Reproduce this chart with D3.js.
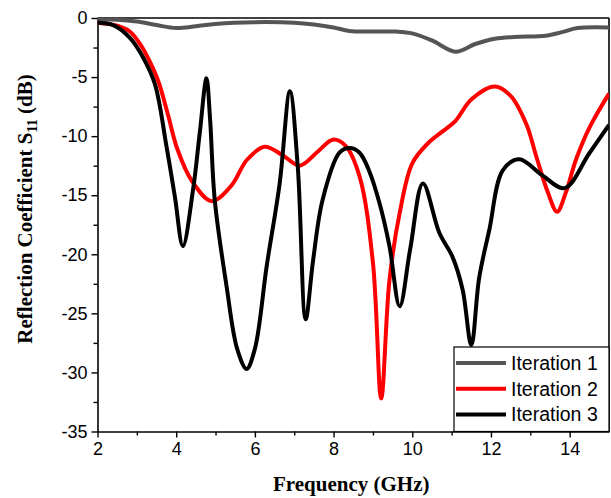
<!DOCTYPE html>
<html>
<head>
<meta charset="utf-8">
<script src="https://cdn.jsdelivr.net/npm/d3@7"></script>
<style>
  body { margin: 0; background: #fff; }
  .tick text { font-family: "Liberation Sans", Arial, sans-serif; font-size: 18px; fill: #000; }
  .axis path, .axis line { stroke: #000; }
</style>
</head>
<body>
<div id="chart"></div>
<script>
// Plot constants
const MARGIN = {LEFT: 97.5, RIGHT: 2, TOP: 18, BOTTOM: 66.5};
const WIDTH = 611 - MARGIN.LEFT - MARGIN.RIGHT;
const HEIGHT = 498 - MARGIN.TOP - MARGIN.BOTTOM;

// data: [frequency GHz, S11 dB]
const iteration1 = [
  [2.0, -0.15], [2.5, -0.15], [3.0, -0.3], [3.5, -0.6], [4.0, -0.85], [4.5, -0.7],
  [5.0, -0.5], [6.0, -0.35], [7.0, -0.4], [7.5, -0.55], [8.0, -0.8], [8.4, -1.1],
  [9.0, -1.15], [9.6, -1.15], [10.0, -1.3], [10.5, -1.9], [11.1, -2.85], [11.6, -2.2],
  [12.1, -1.75], [12.6, -1.6], [13.4, -1.5], [13.8, -1.2], [14.2, -0.85], [15.0, -0.8]
];
const iteration2 = [
  [2.0, -0.4], [2.5, -0.65], [2.83, -1.16], [3.1, -2.3], [3.33, -3.7], [3.55, -5.4],
  [3.8, -8.3], [4.02, -11], [4.4, -13.8], [4.9, -15.5], [5.4, -14.2], [5.8, -12],
  [6.25, -10.9], [6.7, -11.6], [7.14, -12.5], [7.6, -11.3], [7.98, -10.3], [8.3, -10.8],
  [8.66, -13.4], [9.0, -20.7], [9.21, -32.2], [9.42, -22.2], [9.68, -16.5], [10.0, -12.3],
  [10.4, -10.6], [10.77, -9.6], [11.1, -8.7], [11.5, -6.9], [12.1, -5.8],
  [12.5, -6.6], [12.9, -9], [13.15, -11.7], [13.45, -14.8], [13.68, -16.4], [13.9, -14.8],
  [14.16, -12], [14.5, -9.3], [15.0, -6.4]
];
const iteration3 = [
  [2.0, -0.4], [2.4, -0.6], [2.83, -1.7], [3.17, -3.4], [3.46, -5.6], [3.76, -11],
  [3.97, -15.2], [4.17, -19.3], [4.43, -14.5], [4.6, -9.7], [4.77, -5.1], [4.86, -8.5],
  [4.98, -15.4], [5.28, -22.7], [5.55, -28], [5.79, -29.7], [6.0, -28], [6.3, -21],
  [6.63, -14], [6.89, -6.2], [7.09, -12.6], [7.29, -25.5], [7.48, -20.5], [7.72, -15.4],
  [8.15, -11.4], [8.41, -11], [8.66, -11.4], [8.9, -12.9], [9.17, -15.7], [9.42, -19.3],
  [9.68, -24.4], [9.95, -19.5], [10.27, -14], [10.69, -18.2], [11.02, -20.2], [11.28, -23],
  [11.5, -27.7], [11.7, -22], [11.96, -17.9], [12.3, -12.9], [12.72, -11.95],
  [13.3, -13.3], [13.87, -14.4], [14.5, -11.45], [15.0, -9.05]
];
const seriesNames = ["Iteration 1", "Iteration 2", "Iteration 3"];
const seriesColors = ["#555555", "#ff0000", "#000000"];
const xTicks = [2, 4, 6, 8, 10, 12, 14];
const yTicks = [0, -5, -10, -15, -20, -25, -30, -35];

const svg = d3.select("#chart")
  .append("svg")
  .attr("width", 611)
  .attr("height", 498);

const g = svg.append("g")
  .attr("transform", "translate(" + MARGIN.LEFT + "," + MARGIN.TOP + ")");

// Scales
const x = d3.scaleLinear().domain([2, 15]).range([0, WIDTH]);
const y = d3.scaleLinear().domain([-35, 0]).range([HEIGHT, 0]);

// minor ticks first
g.append("g")
  .attr("class", "axis")
  .attr("transform", "translate(0," + HEIGHT + ")")
  .call(d3.axisBottom(x).tickValues(d3.range(3, 15, 2)).tickSize(4).tickSizeOuter(0).tickFormat(""))
  .call(a => a.select(".domain").remove());
g.append("g")
  .attr("class", "axis")
  .call(d3.axisLeft(y).tickValues(d3.range(-32.5, 0, 5)).tickSize(4).tickSizeOuter(0).tickFormat(""))
  .call(a => a.select(".domain").remove());

// major axes
g.append("g")
  .attr("class", "axis")
  .attr("transform", "translate(0," + HEIGHT + ")")
  .call(d3.axisBottom(x).tickValues(xTicks).tickSize(6).tickSizeOuter(0).tickPadding(5));
g.append("g")
  .attr("class", "axis")
  .call(d3.axisLeft(y).tickValues(yTicks).tickSize(6).tickSizeOuter(0).tickPadding(4)
    .tickFormat(d => d));
g.selectAll(".axis path.domain").attr("stroke-width", 1.6);
g.selectAll(".axis line").attr("stroke-width", 1.4);

// top / right frame
g.append("line").attr("x1", 0).attr("x2", WIDTH).attr("y1", 0).attr("y2", 0)
  .attr("stroke", "#000").attr("stroke-width", 1.6);
g.append("line").attr("x1", WIDTH).attr("x2", WIDTH).attr("y1", 0).attr("y2", HEIGHT)
  .attr("stroke", "#000").attr("stroke-width", 1.6);

// curves
svg.append("clipPath").attr("id", "clip")
  .append("rect").attr("width", WIDTH).attr("height", HEIGHT + 2).attr("y", -1);

const line = d3.line()
  .x(d => x(d[0]))
  .y(d => y(d[1]))
  .curve(d3.curveCatmullRom.alpha(0.5));

const curves = g.append("g").attr("clip-path", "url(#clip)");
[iteration1, iteration2, iteration3].forEach((data, i) => {
  curves.append("path")
    .datum(data)
    .attr("fill", "none")
    .attr("stroke", seriesColors[i])
    .attr("stroke-width", 4)
    .attr("stroke-linejoin", "round")
    .attr("d", line);
});

// legend
const legend = g.append("g").attr("transform", "translate(" + (454 - MARGIN.LEFT) + "," + (347 - MARGIN.TOP) + ")");
legend.append("rect")
  .attr("width", WIDTH - (454 - MARGIN.LEFT))
  .attr("height", HEIGHT - (347 - MARGIN.TOP))
  .attr("fill", "#fff")
  .attr("stroke", "#000")
  .attr("stroke-width", 1.2);
seriesNames.forEach((name, i) => {
  const row = legend.append("g").attr("transform", "translate(0," + (16 + i * 25.7) + ")");
  row.append("line").attr("x1", 2).attr("x2", 52)
    .attr("stroke", seriesColors[i]).attr("stroke-width", 4);
  row.append("text")
    .attr("x", 57).attr("dy", "0.36em")
    .style("font-family", "'Liberation Sans', Arial, sans-serif")
    .style("font-size", "19.5px")
    .text(name);
});

// axis titles
svg.append("text")
  .attr("x", MARGIN.LEFT + WIDTH / 2 - 2)
  .attr("y", 491)
  .attr("text-anchor", "middle")
  .style("font-family", "'Liberation Serif', 'Times New Roman', serif")
  .style("font-weight", "bold")
  .style("font-size", "21px")
  .text("Frequency (GHz)");

const yTitle = svg.append("text")
  .attr("transform", "translate(32,209)rotate(-90)")
  .attr("text-anchor", "middle")
  .style("font-family", "'Liberation Serif', 'Times New Roman', serif")
  .style("font-weight", "bold")
  .style("font-size", "21px");
yTitle.append("tspan").text("Reflection Coefficient S");
yTitle.append("tspan").attr("dy", 5).style("font-size", "14px").text("11");
yTitle.append("tspan").attr("dy", -5).text(" (dB)");
</script>
</body>
</html>
